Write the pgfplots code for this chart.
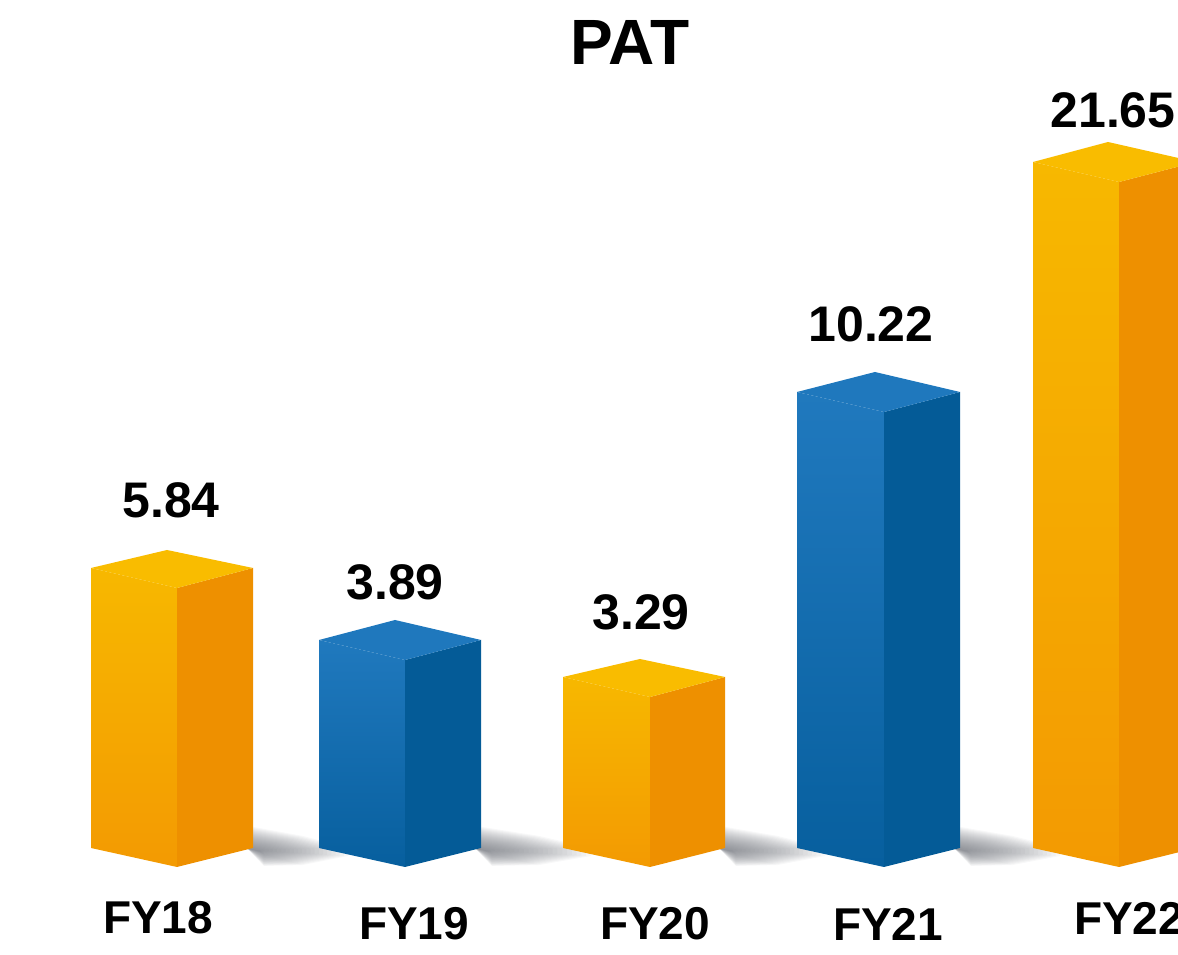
\documentclass[border=0pt]{standalone}
\usepackage{pgfplots}
\pgfplotsset{compat=1.18}
\usepackage{fontspec}
\setmainfont{Liberation Sans}
\definecolor{ot}{HTML}{F7B800}
\definecolor{ob}{HTML}{F39A02}
\definecolor{or}{HTML}{EE9000}
\definecolor{otop}{HTML}{F9BC00}
\definecolor{bt}{HTML}{2079BE}
\definecolor{bb}{HTML}{075F9E}
\definecolor{br}{HTML}{045B97}
\definecolor{btop}{HTML}{1F78BD}
\definecolor{sh}{HTML}{555962}
\definecolor{txt}{HTML}{151515}
% #1 xl, #2 xm, #3 xa, #4 xr, #5 h, #6 h top, #7 h inner
\newcommand{\orangebar}[7]{%
  \addplot[draw=none, top color=ot, bottom color=ob] coordinates {(#1,0) (#2,-19) (#2,#7) (#1,#5)} --cycle;
  \addplot[draw=none, fill=or] coordinates {(#2,-19) (#4,0) (#4,#5) (#2,#7)} --cycle;
  \addplot[draw=none, fill=otop] coordinates {(#1,#5) (#3,#6) (#4,#5) (#2,#7)} --cycle;
}
\newcommand{\bluebar}[7]{%
  \addplot[draw=none, top color=bt, bottom color=bb] coordinates {(#1,0) (#2,-19) (#2,#7) (#1,#5)} --cycle;
  \addplot[draw=none, fill=br] coordinates {(#2,-19) (#4,0) (#4,#5) (#2,#7)} --cycle;
  \addplot[draw=none, fill=btop] coordinates {(#1,#5) (#3,#6) (#4,#5) (#2,#7)} --cycle;
}
% soft shadow: nested translucent layers; #1 start x, #2 length
\newcommand{\shadowband}[2]{%
  \pgfplotsforeachungrouped \k in {0,...,23}{%
    \pgfmathsetmacro{\f}{1-\k/24}%
    \pgfmathsetmacro{\xe}{#1+#2*\f}%
    \pgfmathsetmacro{\xm}{#1+0.55*#2*\f}%
    \pgfmathsetmacro{\xs}{#1+16}%
    \pgfmathsetmacro{\yu}{-2+24*\f}%
    \pgfmathsetmacro{\yd}{-2-16*\f}%
    \pgfmathsetmacro{\yum}{-2+14*\f}%
    \pgfmathsetmacro{\ydm}{-2-15*\f}%
    \pgfmathsetmacro{\yue}{-2+2*\f}%
    \pgfmathsetmacro{\yde}{-2-6*\f}%
    \edef\temp{\noexpand\addplot[draw=none, fill=sh, fill opacity=0.042] coordinates {(#1,-1) (\xs,\yd) (\xm,\ydm) (\xe,\yde) (\xe,\yue) (\xm,\yum) (#1,\yu)} --cycle;}%
    \temp
  }%
}
\begin{document}
\begin{tikzpicture}
\path[use as bounding box, clip] (0,0) rectangle (1178pt,955pt);
\begin{axis}[
  at={(0,0)}, anchor=south west,
  scale only axis, width=1178pt, height=955pt,
  xmin=0, xmax=1178, ymin=-107, ymax=848,
  hide axis, clip=false,
  every node/.style={text=txt, inner sep=0pt},
]
\shadowband{248}{100}
\shadowband{476}{115}
\shadowband{720}{105}
\shadowband{955}{105}
\orangebar{91}{177}{167}{253}{280}{298}{260}
\bluebar{319}{405}{395}{481}{208}{228}{188}
\orangebar{563}{650}{640}{725}{171}{189}{151}
\bluebar{797}{884}{875}{960}{456}{476}{436}
\orangebar{1033}{1119}{1108}{1196}{686}{706}{666}
\node[font=\fontsize{64}{66}\selectfont\bfseries] at (axis cs:630,806) {PAT};
\node[font=\fontsize{50}{52}\selectfont\bfseries] at (axis cs:171,348) {5.84};
\node[font=\fontsize{50}{52}\selectfont\bfseries] at (axis cs:395,266) {3.89};
\node[font=\fontsize{50}{52}\selectfont\bfseries] at (axis cs:641,236) {3.29};
\node[font=\fontsize{50}{52}\selectfont\bfseries] at (axis cs:871,524) {10.22};
\node[font=\fontsize{50}{52}\selectfont\bfseries] at (axis cs:1113,738) {21.65};
\node[font=\fontsize{46}{48}\selectfont\bfseries] at (axis cs:158,-70) {FY18};
\node[font=\fontsize{46}{48}\selectfont\bfseries] at (axis cs:414,-76) {FY19};
\node[font=\fontsize{46}{48}\selectfont\bfseries] at (axis cs:655,-76) {FY20};
\node[font=\fontsize{46}{48}\selectfont\bfseries] at (axis cs:888,-76) {FY21};
\node[font=\fontsize{46}{48}\selectfont\bfseries] at (axis cs:1129,-70) {FY22};
\end{axis}
\end{tikzpicture}
\end{document}
